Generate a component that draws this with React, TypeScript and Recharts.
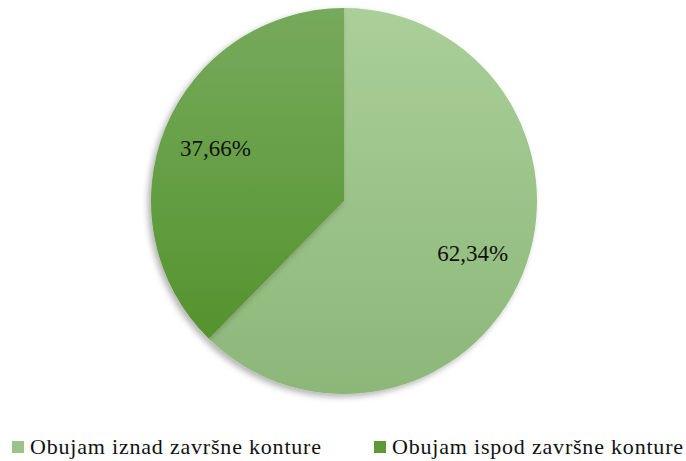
import React from 'react';
import { PieChart, Pie, Cell } from 'recharts';

const categories = ['Obujam iznad završne konture', 'Obujam ispod završne konture'];
const values = [62.34, 37.66];
const labels = ['62,34%', '37,66%'];
const gradients = [
  { id: 'gLight', top: '#aacf99', bottom: '#8cb779', swatch: '#9cc48a' },
  { id: 'gDark', top: '#76aa5c', bottom: '#55932e', swatch: '#5e9a3a' },
];

const FONT = "'Liberation Serif', 'DejaVu Serif', 'Times New Roman', serif";

const data = categories.map((name, i) => ({ name, value: values[i], label: labels[i] }));

const RADIAN = Math.PI / 180;

const renderLabel = (props: any) => {
  const { cx, cy, midAngle, outerRadius, index } = props;
  const r = outerRadius * 0.72;
  const x = cx + r * Math.cos(-midAngle * RADIAN);
  const y = cy + r * Math.sin(-midAngle * RADIAN);
  return (
    <text
      x={x}
      y={y}
      textAnchor="middle"
      dominantBaseline="central"
      fill="#111"
      style={{ fontFamily: FONT, fontSize: 23 }}
    >
      {data[index].label}
    </text>
  );
};

export default function App() {
  return (
    <div style={{ position: 'absolute', left: 0, top: 0, width: 686, height: 461, background: '#fff' }}>
      <PieChart width={686} height={461} margin={{ top: 0, right: 0, bottom: 0, left: 0 }}>
        <defs>
          {gradients.map((g) => (
            <linearGradient key={g.id} id={g.id} x1="0" y1="0" x2="0" y2="1">
              <stop offset="0%" stopColor={g.top} />
              <stop offset="100%" stopColor={g.bottom} />
            </linearGradient>
          ))}
          <filter id="shadow" x="-10%" y="-10%" width="120%" height="120%">
            <feDropShadow dx="-3" dy="3" stdDeviation="3" floodColor="#000" floodOpacity="0.3" />
          </filter>
        </defs>
        <Pie
          data={data}
          dataKey="value"
          nameKey="name"
          cx={344}
          cy={201}
          outerRadius={193}
          startAngle={90}
          endAngle={-270}
          stroke="none"
          label={renderLabel}
          labelLine={false}
          isAnimationActive={false}
          style={{ filter: 'url(#shadow)' }}
        >
          {data.map((d, i) => (
            <Cell key={d.name} fill={`url(#${gradients[i].id})`} />
          ))}
        </Pie>
      </PieChart>
      {categories.map((c, i) => (
        <div
          key={c}
          style={{
            position: 'absolute',
            left: i === 0 ? 12 : 374,
            top: 434,
            display: 'flex',
            alignItems: 'center',
            fontFamily: FONT,
            fontSize: 22,
            letterSpacing: 0.8,
            color: '#111',
            whiteSpace: 'nowrap',
            lineHeight: '26px',
          }}
        >
          <span
            style={{
              display: 'inline-block',
              width: 12,
              height: 12,
              background: gradients[i].swatch,
              marginRight: 6,
            }}
          />
          <span>{c}</span>
        </div>
      ))}
    </div>
  );
}
